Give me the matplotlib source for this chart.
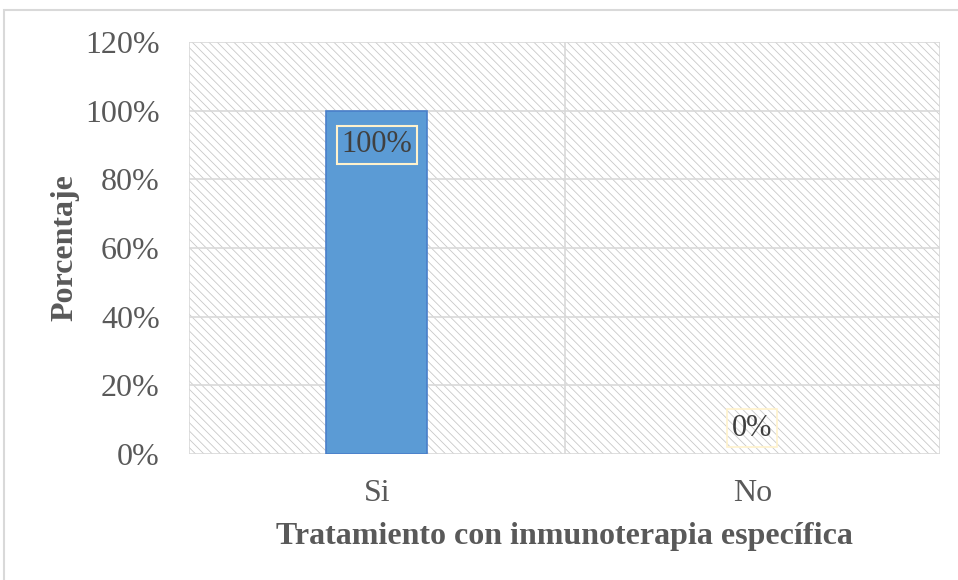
import matplotlib
matplotlib.use("Agg")
from matplotlib import pyplot as plt
from matplotlib.patches import Rectangle
import numpy as np

categorias = ["Si", "No"]
valores = [100, 0]
etiquetas = ["100%", "0%"]
ticks_y = [0, 20, 40, 60, 80, 100, 120]

plt.rcParams['font.family'] = ['Liberation Serif', 'DejaVu Serif']
plt.rcParams['hatch.linewidth'] = 0.6
gris_txt = '#595959'
gris_linea = '#D9D9D9'

fig = plt.figure(figsize=(9.58, 5.8), dpi=100)
# borde exterior (solo arriba e izquierda visibles)
fig.add_artist(Rectangle((4/958, -0.05), 1.1, (580-10)/580 + 0.05, transform=fig.transFigure,
                         fill=False, edgecolor=gris_linea, linewidth=1.5))

ax = fig.add_axes([189/958, 126/580, 751/958, 412/580])
x = np.arange(len(categorias))

# fondo rayado
ax.add_patch(Rectangle((0, 0), 1, 1, transform=ax.transAxes, facecolor='white',
                       edgecolor='#C8C8C8', hatch='\\\\\\\\', linewidth=0, zorder=0))

anchos_borde = [1.2 if v > 0 else 0 for v in valores]
ax.bar(x, valores, width=0.27, color='#5B9BD5', edgecolor='#4A7FC9', linewidth=anchos_borde, zorder=3)

ax.set_xlim(-0.5, 1.5)
ax.set_ylim(0, 120)
ax.set_yticks(ticks_y)
ax.set_yticklabels([f"{t}%" for t in ticks_y])
ax.set_xticks(x)
ax.set_xticklabels(categorias)
ax.tick_params(length=0, labelsize=23, colors=gris_txt)
ax.tick_params(axis='y', pad=21)
ax.tick_params(axis='x', pad=18)

for t in ticks_y:
    ax.axhline(t, color=gris_linea, linewidth=1.2, zorder=1)
for v in [-0.5, 0.5, 1.5]:
    ax.axvline(v, color=gris_linea, linewidth=1.2, zorder=1)
for s in ax.spines.values():
    s.set_visible(False)

# etiquetas de datos
ax.text(x[0], valores[0] - 10, etiquetas[0], ha='center', va='center', fontsize=22, color='#404040',
        zorder=5, bbox=dict(boxstyle='square,pad=0.15', facecolor='none', edgecolor='#FFF2CC', linewidth=1.5))
ax.text(x[1], valores[1] + 7.5, etiquetas[1], ha='center', va='center', fontsize=22, color='#404040',
        zorder=5, bbox=dict(boxstyle='square,pad=0.15', facecolor='none', edgecolor='#FFF2CC', linewidth=1.2))

ax.set_ylabel("Porcentaje", fontsize=23, fontweight='bold', color=gris_txt, labelpad=4)
ax.set_xlabel("Tratamiento con inmunoterapia específica", fontsize=23, fontweight='bold',
              color=gris_txt, labelpad=10)

fig.savefig("out.png", dpi=100)
